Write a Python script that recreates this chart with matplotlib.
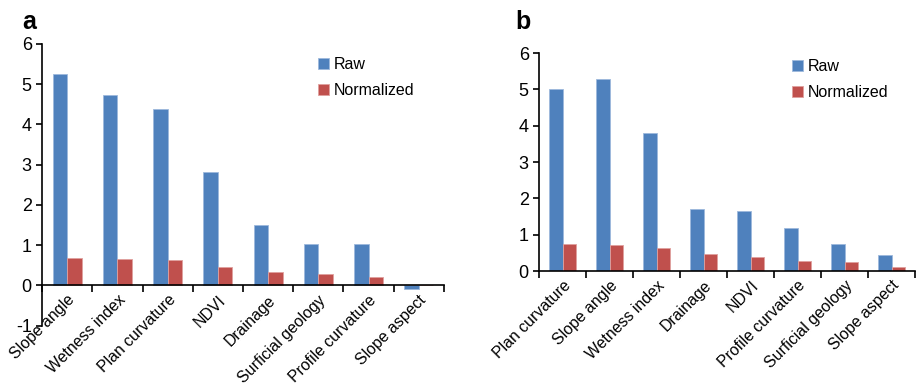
import numpy as np
import matplotlib.pyplot as plt
import matplotlib as mpl

mpl.rcParams['font.family'] = ['Liberation Sans', 'DejaVu Sans']
mpl.rcParams['axes.unicode_minus'] = False

c_raw = '#4F81BD'
c_norm = '#C0504D'

# panel a
cats_a = ['Slope angle', 'Wetness index', 'Plan curvature', 'NDVI', 'Drainage',
          'Surficial geology', 'Profile curvature', 'Slope aspect']
raw_a = [5.25, 4.73, 4.38, 2.81, 1.49, 1.02, 1.04, -0.08]
norm_a = [0.69, 0.65, 0.64, 0.46, 0.34, 0.28, 0.22, 0.01]

# panel b
cats_b = ['Plan curvature', 'Slope angle', 'Wetness index', 'Drainage', 'NDVI',
          'Profile curvature', 'Surficial geology', 'Slope aspect']
raw_b = [5.01, 5.29, 3.79, 1.70, 1.64, 1.19, 0.74, 0.44]
norm_b = [0.75, 0.72, 0.63, 0.46, 0.38, 0.29, 0.25, 0.12]


def panel(ax, cats, raw, norm, ylim, leg_anchor):
    x = np.arange(len(cats))
    w = 0.29
    ax.bar(x - w / 2, raw, w, color=c_raw, edgecolor='#9DB9DC', linewidth=0.6, label='Raw')
    ax.bar(x + w / 2, norm, w, color=c_norm, edgecolor='#E0A09E', linewidth=0.6, label='Normalized')
    ax.set_xlim(-0.5, len(cats) - 0.5)
    ax.set_ylim(*ylim)
    ax.set_yticks(range(ylim[0], ylim[1] + 1))
    ax.spines['top'].set_visible(False)
    ax.spines['right'].set_visible(False)
    ax.spines['bottom'].set_position(('data', 0))
    for s in ('left', 'bottom'):
        ax.spines[s].set_linewidth(1.2)
    ax.set_xticks(x)
    ax.set_xticklabels(cats, rotation=45, ha='right', rotation_mode='anchor')
    ax.set_xticks(np.arange(len(cats) + 1) - 0.5, minor=True)
    ax.tick_params(axis='x', which='major', length=0, pad=5, labelsize=11.4)
    ax.tick_params(axis='x', which='minor', length=5, width=1.2, direction='out')
    ax.tick_params(axis='y', length=4, width=1.2, direction='out', labelsize=13)
    ax.legend(loc='upper right', bbox_to_anchor=leg_anchor, frameon=False,
              handlelength=0.7, handleheight=0.7, handletextpad=0.3,
              labelspacing=0.7, fontsize=11.5)
    return ax


fig = plt.figure(figsize=(9.17, 3.85), dpi=100)
ax1 = fig.add_axes([0.046, 0.154, 0.438, 0.732])
ax2 = fig.add_axes([0.588, 0.296, 0.410, 0.566])
panel(ax1, cats_a, raw_a, norm_a, (-1, 6), (0.962, 1.005))
panel(ax2, cats_b, raw_b, norm_b, (0, 6), (0.968, 1.04))
fig.text(0.024, 0.925, 'a', fontsize=18, fontweight='bold')
fig.text(0.562, 0.925, 'b', fontsize=18, fontweight='bold')

fig.savefig('out.png', dpi=100)
